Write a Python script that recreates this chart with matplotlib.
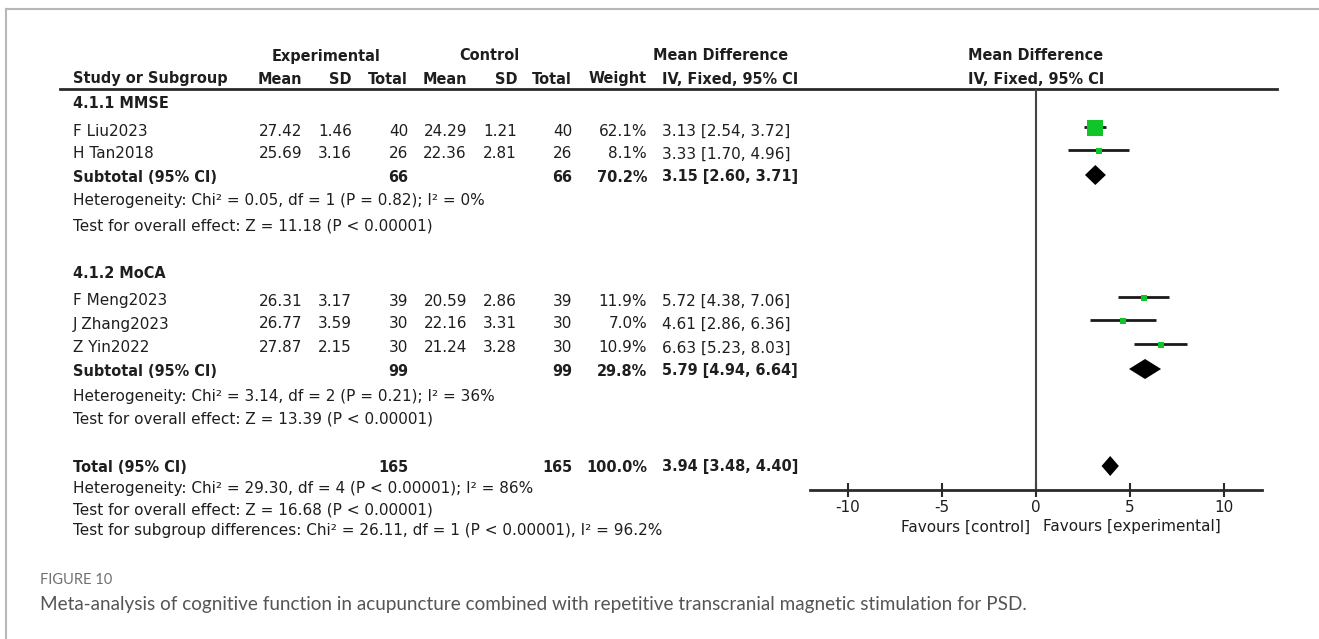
import matplotlib
matplotlib.use("Agg")
import matplotlib.pyplot as plt

# study level data
studies = ["F Liu2023", "H Tan2018", "F Meng2023", "J Zhang2023", "Z Yin2022"]
exp_mean = [27.42, 25.69, 26.31, 26.77, 27.87]
exp_sd = [1.46, 3.16, 3.17, 3.59, 2.15]
exp_n = [40, 26, 39, 30, 30]
ctl_mean = [24.29, 22.36, 20.59, 22.16, 21.24]
ctl_sd = [1.21, 2.81, 2.86, 3.31, 3.28]
ctl_n = [40, 26, 39, 30, 30]
weight = [62.1, 8.1, 11.9, 7.0, 10.9]
md = [3.13, 3.33, 5.72, 4.61, 6.63]
ci_lo = [2.54, 1.70, 4.38, 2.86, 5.23]
ci_hi = [3.72, 4.96, 7.06, 6.36, 8.03]

# subgroups
sub_names = ["4.1.1 MMSE", "4.1.2 MoCA"]
sub_exp_n = [66, 99]
sub_ctl_n = [66, 99]
sub_weight = [70.2, 29.8]
sub_md = [3.15, 5.79]
sub_lo = [2.60, 4.94]
sub_hi = [3.71, 6.64]
sub_het = ["Heterogeneity: Chi\u00b2 = 0.05, df = 1 (P = 0.82); I\u00b2 = 0%",
           "Heterogeneity: Chi\u00b2 = 3.14, df = 2 (P = 0.21); I\u00b2 = 36%"]
sub_test = ["Test for overall effect: Z = 11.18 (P < 0.00001)",
            "Test for overall effect: Z = 13.39 (P < 0.00001)"]

# overall
tot_exp_n = 165
tot_ctl_n = 165
tot_weight = 100.0
tot_md = 3.94
tot_lo = 3.48
tot_hi = 4.40
tot_notes = ["Heterogeneity: Chi\u00b2 = 29.30, df = 4 (P < 0.00001); I\u00b2 = 86%",
             "Test for overall effect: Z = 16.68 (P < 0.00001)",
             "Test for subgroup differences: Chi\u00b2 = 26.11, df = 1 (P < 0.00001), I\u00b2 = 96.2%"]

xticks = [-10, -5, 0, 5, 10]

# layout (pixel rows, centre of capital letters)
W, H = 1319, 639
study_rows = [129, 152, 299, 322, 346]
sub_title_rows = [102, 271]
sub_rows = [175, 369]
sub_het_rows = [199, 394]
sub_test_rows = [224, 417]
tot_row = 465
tot_note_rows = [487, 508, 529]

plt.rcParams['font.family'] = ['DejaVu Sans']
fs = 11.0
fsb = 10.45
tc = '#1e1e1e'
green = '#10c42a'

fig = plt.figure(figsize=(W / 100, H / 100), dpi=100)
ax = fig.add_axes([0, 0, 1, 1])
ax.set_xlim(0, W)
ax.set_ylim(H, 0)
ax.axis('off')

# frame
ax.plot([6, W], [9, 9], color='#b8b8b8', lw=1.5)
ax.plot([6, 6], [9, H], color='#b8b8b8', lw=1.5)

def txt(x, y, s, ha='left', bold=False):
    ax.text(x, y + 6.5, s, ha=ha, va='baseline', fontsize=fsb if bold else fs,
            fontweight='bold' if bold else 'normal', color=tc)

# column x positions
c_name = 73
c_em, c_esd, c_en = 302, 352, 408
c_cm, c_csd, c_cn = 467, 517, 572
c_w = 647
c_ci = 662

# headers
txt(326, 54, "Experimental", ha='center', bold=True)
txt(489, 54, "Control", ha='center', bold=True)
txt(721, 54, "Mean Difference", ha='center', bold=True)
txt(1036, 54, "Mean Difference", ha='center', bold=True)
txt(c_name, 77, "Study or Subgroup", bold=True)
txt(c_em, 77, "Mean", ha='right', bold=True)
txt(c_esd, 77, "SD", ha='right', bold=True)
txt(c_en, 77, "Total", ha='right', bold=True)
txt(c_cm, 77, "Mean", ha='right', bold=True)
txt(c_csd, 77, "SD", ha='right', bold=True)
txt(c_cn, 77, "Total", ha='right', bold=True)
txt(c_w, 77, "Weight", ha='right', bold=True)
txt(c_ci, 77, "IV, Fixed, 95% CI", bold=True)
txt(1036, 77, "IV, Fixed, 95% CI", ha='center', bold=True)
ax.plot([60, 1277], [89, 89], color='#2a2a2a', lw=2)

# study rows
for i, name in enumerate(studies):
    y = study_rows[i]
    txt(c_name, y, name)
    txt(c_em, y, f"{exp_mean[i]:.2f}", ha='right')
    txt(c_esd, y, f"{exp_sd[i]:.2f}", ha='right')
    txt(c_en, y, f"{exp_n[i]}", ha='right')
    txt(c_cm, y, f"{ctl_mean[i]:.2f}", ha='right')
    txt(c_csd, y, f"{ctl_sd[i]:.2f}", ha='right')
    txt(c_cn, y, f"{ctl_n[i]}", ha='right')
    txt(c_w, y, f"{weight[i]:.1f}%", ha='right')
    txt(c_ci, y, f"{md[i]:.2f} [{ci_lo[i]:.2f}, {ci_hi[i]:.2f}]")

for j in range(2):
    txt(c_name, sub_title_rows[j], sub_names[j], bold=True)
    y = sub_rows[j]
    txt(c_name, y, "Subtotal (95% CI)", bold=True)
    txt(c_en, y, f"{sub_exp_n[j]}", ha='right', bold=True)
    txt(c_cn, y, f"{sub_ctl_n[j]}", ha='right', bold=True)
    txt(c_w, y, f"{sub_weight[j]:.1f}%", ha='right', bold=True)
    txt(c_ci, y, f"{sub_md[j]:.2f} [{sub_lo[j]:.2f}, {sub_hi[j]:.2f}]", bold=True)
    txt(c_name, sub_het_rows[j], sub_het[j])
    txt(c_name, sub_test_rows[j], sub_test[j])

txt(c_name, tot_row, "Total (95% CI)", bold=True)
txt(c_en, tot_row, f"{tot_exp_n}", ha='right', bold=True)
txt(c_cn, tot_row, f"{tot_ctl_n}", ha='right', bold=True)
txt(c_w, tot_row, f"{tot_weight:.1f}%", ha='right', bold=True)
txt(c_ci, tot_row, f"{tot_md:.2f} [{tot_lo:.2f}, {tot_hi:.2f}]", bold=True)
for k, note in enumerate(tot_notes):
    txt(c_name, tot_note_rows[k], note)

# caption
ax.text(40, 584, "FIGURE 10", ha='left', va='baseline', fontsize=10.5,
        color='#707070', family='Lato')
ax.text(40, 610, "Meta-analysis of cognitive function in acupuncture combined with "
        "repetitive transcranial magnetic stimulation for PSD.",
        ha='left', va='baseline', fontsize=13.6, color='#555555', family='Lato')

# forest plot axes
x0, x1, ytop, ybot = 810, 1262, 89, 490
fa = fig.add_axes([x0 / W, 1 - ybot / H, (x1 - x0) / W, (ybot - ytop) / H])
fa.set_xlim(-12, 12)
fa.set_ylim(ybot, ytop)
fa.patch.set_alpha(0)
for s in ['top', 'left', 'right']:
    fa.spines[s].set_visible(False)
fa.spines['bottom'].set_linewidth(2)
fa.spines['bottom'].set_color('#2a2a2a')
fa.set_yticks([])
fa.set_xticks(xticks)
fa.set_xticklabels([str(t) for t in xticks])
fa.tick_params(axis='x', direction='inout', length=10, width=1.5, color='#2a2a2a',
               labelsize=fs, labelcolor=tc, pad=2)
fa.axvline(0, color='#444444', lw=1.5)

for i in range(len(studies)):
    y = study_rows[i] - 2
    fa.plot([ci_lo[i], ci_hi[i]], [y, y], color='#1a1a1a', lw=2, solid_capstyle='butt')
    side = 17 * (weight[i] / 62.1) ** 0.5 * 0.65
    fa.plot(md[i], y + 1, 's', color=green, markersize=max(side, 3.6), markeredgewidth=0)

def diamond(m, lo, hi, y, h):
    fa.fill([lo, m, hi, m], [y, y - h, y, y + h], color='black', lw=0)

for j in range(2):
    diamond(sub_md[j], sub_lo[j], sub_hi[j], sub_rows[j], 10)
diamond(tot_md, tot_lo, tot_hi, tot_row + 1, 10)

fa.text(-0.3, 527, "Favours [control]", ha='right', va='center', fontsize=fs,
        color=tc, clip_on=False)
fa.text(0.35, 527, "Favours [experimental]", ha='left', va='center', fontsize=fs,
        color=tc, clip_on=False)

fig.savefig("out.png", dpi=100)
